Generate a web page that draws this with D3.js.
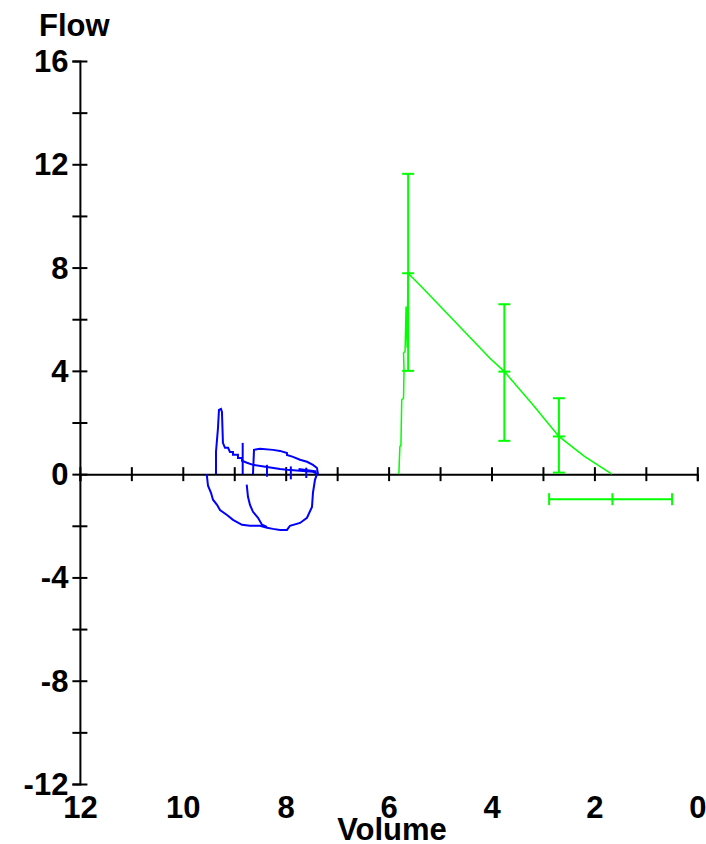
<!DOCTYPE html>
<html>
<head>
<meta charset="utf-8">
<script src="https://cdn.jsdelivr.net/npm/d3@7"></script>
<style>
  body { margin: 0; background: #fff; }
  .axis text { font-family: "Liberation Sans", Arial, sans-serif; font-weight: bold; font-size: 31px; fill: #000; }
  .title { font-family: "Liberation Sans", Arial, sans-serif; font-weight: bold; font-size: 31px; fill: #000; }
</style>
</head>
<body>
<div class="chart"></div>
<script>
// axis ticks
const xTicks = d3.range(0, 13, 1)
const xLabels = [12, 10, 8, 6, 4, 2, 0]
const yTicks = d3.range(-12, 17, 2)
const yLabels = [16, 12, 8, 4, 0, -4, -8, -12]

// predicted curve (green) : volume / flow
const predVolume = [5.80, 5.79, 5.78, 5.76, 5.745, 5.71, 5.70, 5.71, 5.68, 5.66, 5.64, 5.63, 5.62, 5.36, 4.03, 3.75, 3.2, 2.69, 2.2, 1.66]
const predFlow   = [0.00, 0.60, 1.07, 1.13, 2.88, 2.94, 4.04, 4.69, 4.75, 6.49, 4.90, 6.60, 7.78, 7.26, 4.49, 3.97, 2.70, 1.46, 0.70, 0.00]

// vertical error bars (green)
const barVolume = [5.62, 3.75, 2.69]
const barMid    = [7.78, 3.97, 1.46]
const barLow    = [4.00, 1.29, 0.06]
const barHigh   = [11.63, 6.58, 2.94]

// horizontal error bar (green)
const hBarFlow = -0.97
const hBarMid  = 1.65
const hBarLow  = 0.49
const hBarHigh = 2.88

// measured loops (blue) : [volume, flow]
const loopSpike = [[9.355,0.01],[9.355,0.86],[9.316,1.79],[9.297,2.49],[9.258,2.53],[9.239,2.41],[9.22,1.21],[9.18,1.02],[9.12,1.02],[9.083,0.86],[9.025,0.86],[9.025,0.75],[8.928,0.75],[8.928,0.63],[8.85,0.63],[8.85,0.52],[8.753,0.44],[8.636,0.36],[8.364,0.28],[8.111,0.2],[7.975,0.17],[7.722,0.13],[7.47,0.09],[7.372,0.0]]
const loopUpper = [[8.636,0.0],[8.616,0.94],[8.5,0.98],[8.247,0.94],[8.111,0.9],[7.975,0.82],[7.975,0.74],[7.858,0.67],[7.722,0.56],[7.586,0.48],[7.47,0.36],[7.392,0.24],[7.372,0.0]]
const loopLower = [[9.535,0.0],[9.51,-0.45],[9.452,-0.72],[9.413,-0.99],[9.335,-1.19],[9.277,-1.39],[9.141,-1.58],[9.024,-1.77],[8.85,-1.96],[8.694,-2.0],[8.5,-2.0],[8.364,-2.08],[8.247,-2.12],[8.111,-2.16],[7.975,-2.16],[7.917,-2.0],[7.722,-1.89],[7.586,-1.69],[7.489,-1.27],[7.47,-0.72],[7.431,-0.22],[7.392,0.0]]
const loopInner = [[8.758,-0.41],[8.733,-0.88],[8.694,-1.19],[8.636,-1.46],[8.538,-1.69],[8.461,-1.96],[8.364,-2.04]]
const loopTicks = [[[8.836,1.21],[8.836,0.0]],[[8.364,0.36],[8.364,-0.1]],[[7.9,0.3],[7.9,-0.2]],[[7.6,0.25],[7.6,-0.15]],[[7.75,0.2],[7.4,0.1]]]

const width = 706, height = 844
const svg = d3.select(".chart")
  .append("svg")
  .attr("width", width)
  .attr("height", height)

const xScale = d3.scaleLinear()
  .domain([12, 0])
  .range([79.9, 697.3])

const yScale = d3.scaleLinear()
  .domain([-12, 16])
  .range([784, 61])

// y axis with ticks crossing both sides
const yAxis = d3.axisLeft()
  .scale(yScale)
  .tickValues(yTicks)
  .tickSizeOuter(0)
  .tickSize(7.5)
  .tickPadding(4)
  .tickFormat(d => yLabels.includes(d) ? d : "")

const gy = svg.append("g")
  .attr("class", "axis y-axis")
  .attr("transform", `translate(${xScale(12)},0)`)
  .call(yAxis)
gy.selectAll(".tick line").attr("x1", 7.5).attr("x2", -7.5).attr("stroke-width", 2)
gy.select(".domain").attr("stroke-width", 2)
gy.selectAll(".tick text").attr("dy", "0.34em")

// x axis at flow = 0
const xAxis = d3.axisBottom()
  .scale(xScale)
  .tickValues(xTicks)
  .tickSizeOuter(0)
  .tickSize(7)
  .tickFormat("")

const gx = svg.append("g")
  .attr("class", "axis x-axis")
  .attr("transform", `translate(0, ${yScale(0)})`)
  .call(xAxis)
gx.selectAll(".tick line").attr("y1", -7).attr("y2", 7).attr("stroke-width", 2)
gx.select(".domain").attr("stroke-width", 2)

// x labels at bottom
const xLabelAxis = d3.axisBottom()
  .scale(xScale)
  .tickValues(xLabels)
  .tickSize(0)
  .tickPadding(12)

const gxl = svg.append("g")
  .attr("class", "axis x-labels")
  .attr("transform", `translate(0, ${yScale(-12)})`)
  .call(xLabelAxis)
gxl.select(".domain").remove()

// titles
svg.append("text")
  .attr("class", "title")
  .attr("x", 39)
  .attr("y", 36)
  .text("Flow")

svg.append("text")
  .attr("class", "title")
  .attr("x", 392)
  .attr("y", 840)
  .attr("text-anchor", "middle")
  .text("Volume")

const line = d3.line()
  .x(d => xScale(d[0]))
  .y(d => yScale(d[1]))

// blue loops
const blue = "#0000ff"
const loops = [loopSpike, loopUpper, loopLower, loopInner].concat(loopTicks)
svg.selectAll(".loop")
  .data(loops)
  .join("path")
  .attr("class", "loop")
  .attr("d", line)
  .attr("fill", "none")
  .attr("stroke", blue)
  .attr("stroke-width", 2)

// green predicted curve
const green = "#00ff00"
svg.append("path")
  .datum(predVolume.map((v, i) => [v, predFlow[i]]))
  .attr("d", line)
  .attr("fill", "none")
  .attr("stroke", green)
  .attr("stroke-width", 1.5)

const cap = 6
const bars = svg.selectAll(".vbar")
  .data(barVolume.map((v, i) => ({ v, mid: barMid[i], lo: barLow[i], hi: barHigh[i] })))
  .join("g")
  .attr("class", "vbar")
  .attr("stroke", green)
  .attr("stroke-width", 2)

bars.append("line")
  .attr("x1", d => xScale(d.v)).attr("x2", d => xScale(d.v))
  .attr("y1", d => yScale(d.lo)).attr("y2", d => yScale(d.hi))
;["lo", "mid", "hi"].forEach(k => {
  bars.append("line")
    .attr("x1", d => xScale(d.v) - cap).attr("x2", d => xScale(d.v) + cap)
    .attr("y1", d => yScale(d[k])).attr("y2", d => yScale(d[k]))
})

// horizontal error bar
const hb = svg.append("g")
  .attr("stroke", green)
  .attr("stroke-width", 2)
hb.append("line")
  .attr("x1", xScale(hBarHigh)).attr("x2", xScale(hBarLow))
  .attr("y1", yScale(hBarFlow)).attr("y2", yScale(hBarFlow))
;[hBarLow, hBarMid, hBarHigh].forEach(v => {
  hb.append("line")
    .attr("x1", xScale(v)).attr("x2", xScale(v))
    .attr("y1", yScale(hBarFlow) - cap).attr("y2", yScale(hBarFlow) + cap)
})
</script>
</body>
</html>
